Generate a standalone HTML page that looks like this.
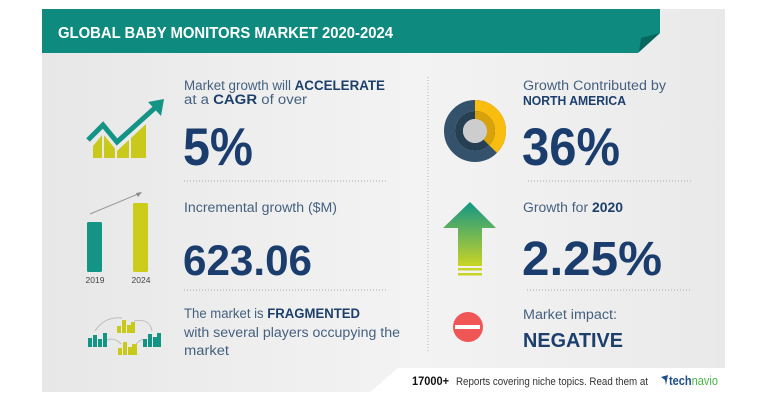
<!DOCTYPE html>
<html><head><meta charset="utf-8"><style>
html,body{margin:0;padding:0;background:#fff;}
svg{display:block;}
text{font-family:"Liberation Sans",sans-serif;}
</style></head><body>
<svg width="768" height="401" viewBox="0 0 768 401" xmlns="http://www.w3.org/2000/svg">
<defs>
<linearGradient id="bg" x1="0" y1="0" x2="1" y2="0">
<stop offset="0" stop-color="#e7e7e7"/>
<stop offset="0.35" stop-color="#efefef"/>
<stop offset="0.55" stop-color="#f3f3f3"/>
<stop offset="0.8" stop-color="#eeeeee"/>
<stop offset="1" stop-color="#e9e9e9"/>
</linearGradient>
<linearGradient id="ga" x1="0" y1="0" x2="0" y2="1">
<stop offset="0" stop-color="#129686"/>
<stop offset="1" stop-color="#c9d426"/>
</linearGradient>
<clipPath id="barclip"><polygon points="93,158 93,146 103,134 117,151 146,124 146,158"/></clipPath>
</defs>
<rect width="768" height="401" fill="#fff"/>
<polygon points="42,9 725,9 725,368 398,368 370,392 42,392" fill="url(#bg)"/>
<!-- header -->
<polygon points="42,9 660,9 660,33 638,53 42,53" fill="#0e8a7f"/>
<polygon points="641,38 660,33 639,52" fill="#07665e"/>
<text x="58" y="38" font-size="16" font-weight="bold" fill="#fff" textLength="335" lengthAdjust="spacingAndGlyphs">GLOBAL BABY MONITORS MARKET 2020-2024</text>

<!-- vertical dotted -->
<line x1="428" y1="77" x2="428" y2="352" stroke="#b5b5b5" stroke-width="1" stroke-dasharray="1 2"/>
<!-- horizontal dotted -->
<line x1="184" y1="181" x2="387" y2="181" stroke="#a9a9a9" stroke-width="1" stroke-dasharray="1 2"/>
<line x1="528" y1="181" x2="692" y2="181" stroke="#a9a9a9" stroke-width="1" stroke-dasharray="1 2"/>
<line x1="184" y1="290" x2="387" y2="290" stroke="#a9a9a9" stroke-width="1" stroke-dasharray="1 2"/>
<line x1="527" y1="290" x2="690" y2="290" stroke="#a9a9a9" stroke-width="1" stroke-dasharray="1 2"/>

<!-- Row 1 left text -->
<text x="184" y="90" font-size="13.5" fill="#45617f" textLength="201" lengthAdjust="spacingAndGlyphs">Market growth will <tspan font-weight="bold" fill="#1d3f6c">ACCELERATE</tspan></text>
<text x="184" y="104" font-size="13.5" fill="#45617f" textLength="123" lengthAdjust="spacingAndGlyphs">at a <tspan font-weight="bold" fill="#1d3f6c">CAGR</tspan> of over</text>
<text x="183" y="165" font-size="53" font-weight="bold" fill="#1b3d6d" textLength="70" lengthAdjust="spacingAndGlyphs">5%</text>

<!-- Row 1 right -->
<text x="523" y="90" font-size="13.5" fill="#45617f" textLength="143" lengthAdjust="spacingAndGlyphs">Growth Contributed by</text>
<text x="523" y="105" font-size="13" font-weight="bold" fill="#1d3f6c" textLength="103" lengthAdjust="spacingAndGlyphs">NORTH AMERICA</text>
<text x="522" y="165" font-size="53" font-weight="bold" fill="#1b3d6d" textLength="98" lengthAdjust="spacingAndGlyphs">36%</text>

<!-- Row 2 left -->
<text x="184" y="212" font-size="13.5" fill="#45617f" textLength="153" lengthAdjust="spacingAndGlyphs">Incremental growth ($M)</text>
<text x="183" y="275" font-size="43" font-weight="bold" fill="#1b3d6d" textLength="129" lengthAdjust="spacingAndGlyphs">623.06</text>

<!-- Row 2 right -->
<text x="523" y="212" font-size="13.5" fill="#45617f" textLength="100" lengthAdjust="spacingAndGlyphs">Growth for <tspan font-weight="bold" fill="#1d3f6c">2020</tspan></text>
<text x="522" y="275" font-size="48" font-weight="bold" fill="#1b3d6d" textLength="140" lengthAdjust="spacingAndGlyphs">2.25%</text>

<!-- Row 3 left -->
<text x="184" y="318" font-size="13.5" fill="#45617f" textLength="176" lengthAdjust="spacingAndGlyphs">The market is <tspan font-weight="bold" fill="#1d3f6c">FRAGMENTED</tspan></text>
<text x="184" y="337" font-size="13.5" fill="#45617f" textLength="216" lengthAdjust="spacingAndGlyphs">with several players occupying the</text>
<text x="184" y="355" font-size="13.5" fill="#45617f" textLength="45" lengthAdjust="spacingAndGlyphs">market</text>

<!-- Row 3 right -->
<text x="523" y="319" font-size="13.5" fill="#45617f" textLength="94" lengthAdjust="spacingAndGlyphs">Market impact:</text>
<text x="523" y="347" font-size="20" font-weight="bold" fill="#1d3f6c" textLength="100" lengthAdjust="spacingAndGlyphs">NEGATIVE</text>

<!-- Trend icon -->
<g clip-path="url(#barclip)" fill="#c8c91a">
<rect x="93" y="120" width="9" height="40"/>
<rect x="104" y="120" width="11" height="40"/>
<rect x="117" y="120" width="12" height="40"/>
<rect x="131" y="120" width="15" height="40"/>
</g>
<polyline points="88,140 103,125 117,142 157,106" fill="none" stroke="#139485" stroke-width="5" stroke-linejoin="miter"/>
<polygon points="164,99 148,102 161,116" fill="#139485"/>

<!-- Bar chart icon -->
<rect x="87" y="222" width="15" height="50" rx="1.5" fill="#139485"/>
<rect x="133" y="203" width="15" height="69" rx="1.5" fill="#cccc1a"/>
<line x1="90" y1="214" x2="138" y2="194" stroke="#9a9a9a" stroke-width="1"/>
<polygon points="142,192 136,193 138,197" fill="#888"/>
<text x="95" y="283" font-size="8.5" fill="#444" text-anchor="middle">2019</text>
<text x="141" y="283" font-size="8.5" fill="#444" text-anchor="middle">2024</text>

<!-- Fragmented icon -->
<g fill="none" stroke="#bdbdbd" stroke-width="1">
<path d="M95,331 Q105,316 122,318"/>
<path d="M134,321 Q150,318 152,331"/>
<path d="M105,341 Q114,336 121,344"/>
<path d="M136,344 Q142,338 145,340"/>
</g>
<g fill="#139485">
<rect x="88" y="338" width="4" height="9"/><rect x="93" y="335" width="4" height="12"/><rect x="98" y="339" width="4" height="8"/><rect x="103" y="333" width="4" height="14"/>
<rect x="143" y="339" width="4" height="8"/><rect x="148" y="334" width="4" height="13"/><rect x="153" y="337" width="4" height="10"/><rect x="157" y="333" width="4" height="14"/>
</g>
<g fill="#c8c91a">
<rect x="117" y="326" width="4" height="7"/><rect x="122" y="320" width="4" height="13"/><rect x="127" y="325" width="4" height="8"/><rect x="131" y="322" width="4" height="11"/>
<rect x="118" y="348" width="4" height="7"/><rect x="123" y="342" width="4" height="13"/><rect x="128" y="347" width="4" height="8"/><rect x="132" y="344" width="5" height="11"/>
</g>

<!-- Donut -->
<g transform="rotate(-90 475 131)">
<circle cx="475" cy="131" r="25.5" fill="none" stroke="#34526b" stroke-width="11"/>
<circle cx="475" cy="131" r="25.5" fill="none" stroke="#f9bd10" stroke-width="11" stroke-dasharray="60 200"/>
<circle cx="475" cy="131" r="16" fill="none" stroke="#263f53" stroke-width="8"/>
<circle cx="475" cy="131" r="16" fill="none" stroke="#d8a20b" stroke-width="8" stroke-dasharray="37.7 200"/>
</g>
<circle cx="475" cy="131" r="12" fill="#cdcdcd"/>

<!-- Green arrow -->
<polygon points="443,228 470,202 496,228 482,228 482,266 458,266 458,228" fill="url(#ga)"/>
<rect x="458" y="268" width="24" height="2.5" fill="#c9d42a"/>
<rect x="458" y="273" width="24" height="2.5" fill="#c9d42a"/>

<!-- Red minus -->
<circle cx="468" cy="327" r="15" fill="#f05656"/>
<rect x="455" y="325" width="25" height="4" fill="#fff"/>

<!-- Footer -->
<text x="412" y="385" font-size="11.5" font-weight="bold" fill="#111" textLength="37" lengthAdjust="spacingAndGlyphs">17000+</text>
<text x="456" y="385" font-size="11" fill="#333" textLength="192" lengthAdjust="spacingAndGlyphs">Reports covering niche topics. Read them at</text>
<polygon points="661,377 668,375 666,385 665,380" fill="#1f4e8c"/>
<text x="669" y="385" font-size="12.5" font-weight="bold" fill="#1f4e8c" textLength="49" lengthAdjust="spacingAndGlyphs">tech<tspan fill="#49b649" font-weight="normal">navio</tspan></text>
</svg>
</body></html>
